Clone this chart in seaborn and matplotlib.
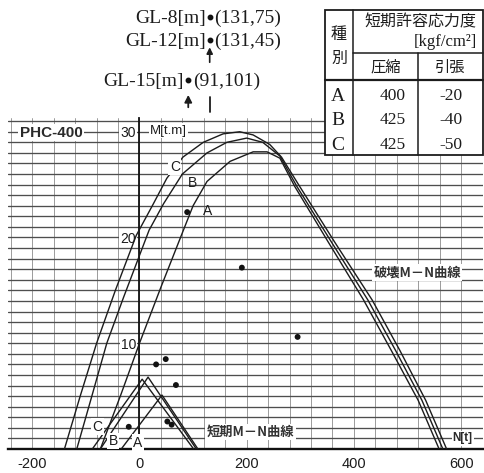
import matplotlib
matplotlib.use("Agg")
import matplotlib.pyplot as plt
import matplotlib.transforms as mtransforms
import seaborn as sns

# ---- failure M-N curves (N [t], M [t.m]) ----
fail_C_N = [-140, -110, -80, -45, -6, 25, 51, 81, 119, 156, 187, 212, 243, 265, 298, 365, 434, 486, 534, 573]
fail_C_M = [0, 5.1, 10, 15.0, 20.2, 23.1, 25.6, 27.6, 29.0, 29.8, 30.0, 29.7, 28.8, 27.6, 24.9, 19.5, 14.1, 9.3, 4.6, 0]

fail_B_N = [-117, -90, -61, -30, 0, 18, 45, 80, 126, 163, 200, 230, 262, 294, 359, 426, 478, 527, 566]
fail_B_M = [0, 4.8, 10, 14.3, 18.3, 20.7, 23.2, 26.0, 28.0, 29.0, 29.4, 29.0, 27.7, 24.8, 19.5, 14.1, 9.3, 4.6, 0]

fail_A_N = [-73, -35, 0, 40, 82, 100, 126, 169, 212, 238, 262, 290, 353, 418, 470, 520, 559]
fail_A_M = [0, 5.1, 10, 15.3, 20.7, 23.0, 25.3, 27.2, 28.1, 28.1, 27.5, 24.8, 19.5, 14.1, 9.3, 4.6, 0]

# ---- short-term allowable M-N curves ----
short_C_N = [-88, 5, 101]
short_C_M = [0, 6.6, 0]
short_B_N = [-73, 16, 106]
short_B_M = [0, 6.8, 0]
short_A_N = [-34, 42, 109]
short_A_M = [0, 5.1, 0]

# ---- design loads inside the chart ----
load_N = [89, 191, 295, 31, 49, 68, -20, 52, 60]
load_M = [22.4, 17.15, 10.6, 8.0, 8.5, 6.05, 2.1, 2.6, 2.3]

# ---- design loads beyond the chart top ----
off_depth = ["GL-8[m]", "GL-12[m]", "GL-15[m]"]
off_N = [131, 131, 91]
off_M = [75, 45, 101]

# ---- allowable stress table ----
table_kind = ["A", "B", "C"]
table_comp = [400, 425, 425]
table_tens = [-20, -40, -50]

x_ticks = [-200, 0, 200, 400, 600]
y_ticks = [10, 20, 30]

sns.set_theme(style="white")
plt.rcParams["font.family"] = ["Liberation Sans", "DejaVu Sans"]
plt.rcParams["axes.unicode_minus"] = False

CJK = ["Noto Sans CJK JP", "DejaVu Sans"]
SERIF = ["Liberation Serif", "DejaVu Serif"]
INK = "#1c1c1c"

fig = plt.figure(figsize=(4.85, 4.73), dpi=100)
fig.patch.set_facecolor("white")
ax = fig.add_axes([8 / 485, 24 / 473, 475 / 485, 331 / 473])
ax.set_facecolor("white")
ax.set_xlim(-245.3, 640.9)
ax.set_ylim(0, 31.3)

# graph-paper grid
ax.set_xticks(x_ticks)
ax.set_xticks(range(-240, 641, 40), minor=True)
ax.set_yticks(y_ticks)
ax.set_yticks(range(1, 32), minor=True)
ax.grid(which="both", axis="x", color="#8c8c8c", lw=0.6)
ax.grid(which="both", axis="y", color="#4e4e4e", lw=0.95)
ax.set_axisbelow(True)

for s in ["top", "right"]:
    ax.spines[s].set_visible(False)
ax.spines["left"].set_position(("data", 0))
ax.spines["left"].set_color("#111111")
ax.spines["left"].set_linewidth(1.3)
ax.spines["bottom"].set_color("#111111")
ax.spines["bottom"].set_linewidth(1.7)

ax.tick_params(axis="x", which="major", length=3, width=1, color="#333", pad=3,
               labelsize=10.5, labelcolor=INK)
ax.tick_params(axis="x", which="minor", length=0)
ax.tick_params(axis="y", which="both", length=0, pad=2.5, labelsize=10, labelcolor=INK)
ax.set_xticklabels([str(v) for v in x_ticks])
ax.set_yticklabels([str(v) for v in y_ticks])
for lab in ax.get_yticklabels():
    lab.set_bbox(dict(boxstyle="square,pad=0.08", fc="white", ec="none"))
ax.set_xlabel("")
ax.set_ylabel("")

# curves
for n, m in [(fail_C_N, fail_C_M), (fail_B_N, fail_B_M), (fail_A_N, fail_A_M),
             (short_C_N, short_C_M), (short_B_N, short_B_M), (short_A_N, short_A_M)]:
    sns.lineplot(x=n, y=m, sort=False, estimator=None, color=INK, lw=1.0, ax=ax, zorder=3)

sns.scatterplot(x=load_N, y=load_M, color="#111111", s=18, edgecolor="none", ax=ax, zorder=5)

box = dict(boxstyle="square,pad=0.1", fc="white", ec="none")

# curve letters
ax.text(66, 26.7, "C", fontsize=10, color=INK, ha="center", va="center", bbox=box, zorder=4)
ax.text(98, 25.2, "B", fontsize=10, color=INK, ha="center", va="center", zorder=4)
ax.text(128, 22.5, "A", fontsize=10, color=INK, ha="center", va="center", zorder=4)
ax.text(-79, 2.1, "C", fontsize=10, color=INK, ha="center", va="center", bbox=box, zorder=4)
ax.text(-49, 0.75, "B", fontsize=10, color=INK, ha="center", va="center", bbox=box, zorder=4)
ax.text(-3, 0.6, "A", fontsize=10, color=INK, ha="center", va="center", bbox=box, zorder=4)

# labels on the paper
ax.text(-223, 29.9, "PHC-400", fontsize=11, fontweight="bold", color="#2a2a2a",
        ha="left", va="center", bbox=box, zorder=4)
ax.text(19.6, 30.1, "M[t.m]", fontsize=9.5, color=INK, ha="left", va="center",
        bbox=box, zorder=4)
ax.text(603, 1.0, "N[t]", fontsize=8.5, fontweight="bold", color="#2a2a2a",
        ha="center", va="center", bbox=box, zorder=4)
ax.text(518, 16.7, "破壊M－N曲線", fontsize=9.5, fontweight="bold", color="#333",
        family=CJK, ha="center", va="center", bbox=box, zorder=4)
ax.text(207, 1.6, "短期M－N曲線", fontsize=9.5, fontweight="bold", color="#333",
        family=CJK, ha="center", va="center", bbox=box, zorder=4)

# loads plotted above the chart, x from data, y in axes fraction
trans = mtransforms.blended_transform_factory(ax.transData, ax.transAxes)
off_y = [1.305, 1.236, 1.115]
for lbl, n, m, yy in zip(off_depth, off_N, off_M, off_y):
    ax.plot([n], [yy], "o", ms=3.2, color="#111", transform=trans, clip_on=False)
    ax.annotate(lbl, xy=(n, yy), xycoords=trans, xytext=(-3, -1), textcoords="offset points",
                ha="right", va="center", fontsize=14, family=SERIF, color=INK,
                annotation_clip=False)
    ax.annotate(f"({n},{m})", xy=(n, yy), xycoords=trans, xytext=(3.5, -1),
                textcoords="offset points", ha="left", va="center", fontsize=14,
                family=SERIF, color=INK, annotation_clip=False)

# pointer marks toward the off-chart loads
ax.annotate("", xy=(off_N[1], 1.222), xycoords=trans, xytext=(off_N[1], 1.160),
            textcoords=trans, annotation_clip=False,
            arrowprops=dict(arrowstyle="-|>,head_length=0.3,head_width=0.15", lw=1.2, color=INK))
ax.annotate("", xy=(off_N[2], 1.078), xycoords=trans, xytext=(off_N[2], 1.024),
            textcoords=trans, annotation_clip=False,
            arrowprops=dict(arrowstyle="-|>,head_length=0.35,head_width=0.18", lw=1.3, color=INK))
ax.plot([off_N[0], off_N[0]], [1.018, 1.063], color=INK, lw=1.3, transform=trans, clip_on=False)

# allowable stress table (pixel coordinates overlay)
tb = fig.add_axes([0, 0, 1, 1], zorder=10)
tb.set_xlim(0, 485)
tb.set_ylim(473, 0)
tb.axis("off")
tb.patch.set_alpha(0)
tb.add_patch(plt.Rectangle((325, 10), 158, 145, fc="white", ec=INK, lw=1.3))
tb.plot([353, 353], [10, 155], color=INK, lw=1.1)
tb.plot([418, 418], [53, 155], color=INK, lw=1.1)
tb.plot([353, 483], [53, 53], color=INK, lw=1.1)
tb.plot([325, 483], [80, 80], color=INK, lw=1.6)

tb.text(339, 34, "種", family=CJK, fontsize=11.5, ha="center", va="center", color=INK)
tb.text(339, 58, "別", family=CJK, fontsize=11.5, ha="center", va="center", color=INK)
tb.text(420, 22, "短期許容応力度", family=CJK, fontsize=11.5, ha="center", va="center", color=INK)
tb.text(477, 42, "[kgf/cm²]", family=SERIF, fontsize=12, ha="right", va="center", color=INK)
tb.text(386, 67, "圧縮", family=CJK, fontsize=11, ha="center", va="center", color=INK)
tb.text(450, 67, "引張", family=CJK, fontsize=11, ha="center", va="center", color=INK)
row_y = [96, 120, 145]
for k, c, t, yy in zip(table_kind, table_comp, table_tens, row_y):
    tb.text(338, yy, k, family=SERIF, fontsize=14, ha="center", va="center", color=INK)
    tb.text(393, yy, str(c), family=SERIF, fontsize=12.5, ha="center", va="center", color=INK)
    tb.text(451, yy, str(t), family=SERIF, fontsize=12.5, ha="center", va="center", color=INK)

fig.savefig("out.png", dpi=100, facecolor="white")
